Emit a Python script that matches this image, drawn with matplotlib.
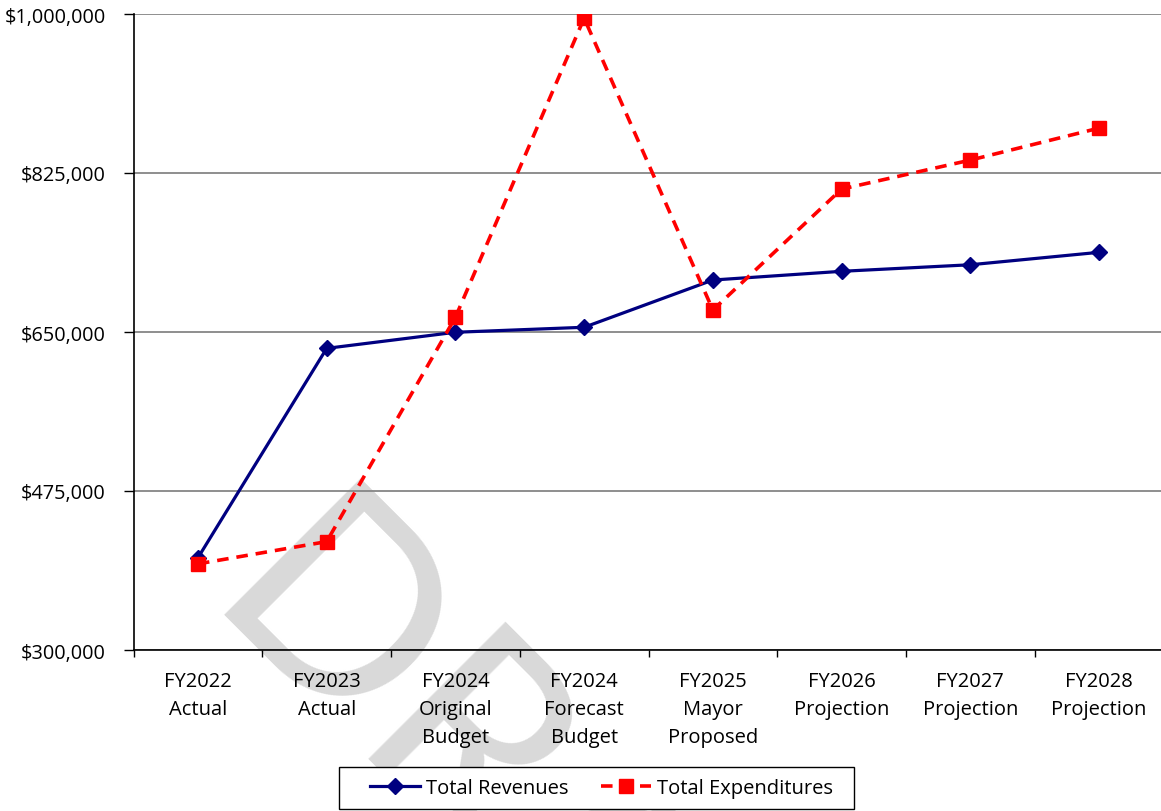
import matplotlib.pyplot as plt
from matplotlib.patches import Rectangle
from matplotlib.ticker import FuncFormatter, FixedLocator

# Fiscal year categories and totals
categories = [
    "FY2022\nActual",
    "FY2023\nActual",
    "FY2024\nOriginal\nBudget",
    "FY2024\nForecast\nBudget",
    "FY2025\nMayor\nProposed",
    "FY2026\nProjection",
    "FY2027\nProjection",
    "FY2028\nProjection",
]
revenues = [401500, 632000, 649700, 655200, 707200, 716800, 724000, 737700]
expenditures = [394800, 419300, 666200, 995400, 674200, 807300, 839200, 874400]
y_ticks = [300000, 475000, 650000, 825000, 1000000]

plt.rcParams["font.family"] = ["Open Sans", "DejaVu Sans"]

fig = plt.figure(figsize=(11.61, 8.12), dpi=100)
ax = fig.add_axes([133.6 / 1161, 1 - 651 / 812, 1029.8 / 1161, 636 / 812])
ax.patch.set_alpha(0)

# DRAFT watermark behind everything
fig.text(198 / 1161, 1 - 614 / 812, "DRAFT", fontsize=194, color="#d9d9d9",
         rotation=-45, rotation_mode="anchor", ha="left", va="baseline",
         family="Lato", zorder=-5)

x = list(range(len(categories)))
ax.plot(x, revenues, color="#000080", lw=2.3, marker="D", markersize=8,
        label="Total Revenues", zorder=3)
ax.plot(x, expenditures, color="#ff0000", lw=2.6, ls=(0, (3.2, 2.2)), marker="s",
        markersize=10, label="Total Expenditures", zorder=4)

ax.set_xlim(-0.5, len(categories) - 0.5)
ax.set_ylim(y_ticks[0], y_ticks[-1])
ax.set_yticks(y_ticks)
ax.yaxis.set_major_formatter(FuncFormatter(lambda v, p: f"${v:,.0f}"))
ax.grid(axis="y", color="#868686", lw=1.3, zorder=1)

ax.set_xticks(x)
ax.set_xticklabels(categories, fontsize=14.5, linespacing=1.55)
ax.xaxis.set_minor_locator(FixedLocator([i - 0.5 for i in range(len(categories) + 1)]))
ax.tick_params(axis="x", which="major", length=0, pad=15)
ax.tick_params(axis="x", which="minor", length=5, width=1, color="black")
ax.tick_params(axis="y", length=7, width=1, pad=13, labelsize=14.3)

for side in ["top", "right"]:
    ax.spines[side].set_visible(False)
for side in ["left", "bottom"]:
    ax.spines[side].set_color("black")
    ax.spines[side].set_linewidth(1.2)
    ax.spines[side].set_zorder(2)

# legend box with wide side margins
fig.patches.append(Rectangle((339 / 1161, 1 - 810 / 812), 515 / 1161, 42 / 812,
                             transform=fig.transFigure, facecolor="white",
                             edgecolor="black", lw=1.0, zorder=1))
leg = fig.legend(loc="center", bbox_to_anchor=(0.518, 0.028), ncol=2, fontsize=14.5,
                 frameon=False, handlelength=2.5, columnspacing=1.6,
                 handletextpad=0.3)
leg.set_zorder(2)

fig.savefig("out.png", dpi=100)
